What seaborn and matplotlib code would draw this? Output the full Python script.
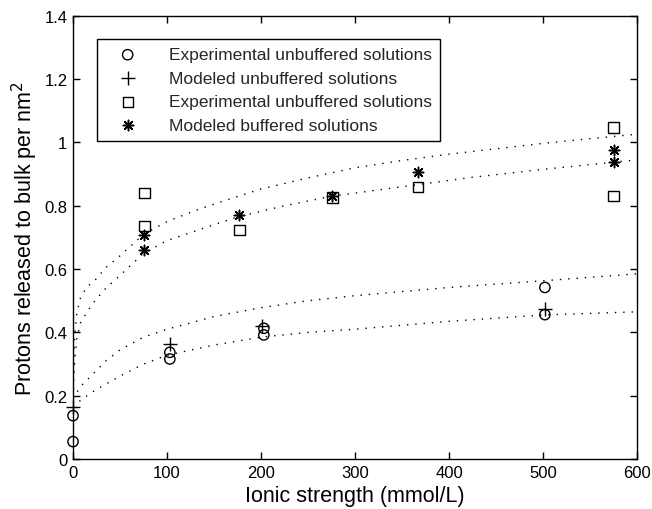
import matplotlib
matplotlib.use("Agg")
import matplotlib.pyplot as plt
import seaborn as sns
from matplotlib.ticker import FuncFormatter

sns.set_theme(style="white")
plt.rcParams["font.family"] = ["Liberation Sans", "DejaVu Sans"]

# measured points
circ_x = [0, 0, 103, 103, 203, 203, 502, 502]
circ_y = [0.055, 0.137, 0.316, 0.337, 0.392, 0.413, 0.456, 0.542]
plus_x = [0, 103, 201, 502]
plus_y = [0.163, 0.363, 0.421, 0.474]
sq_x = [76, 76, 177, 276, 367, 575, 575]
sq_y = [0.84, 0.737, 0.724, 0.826, 0.86, 1.047, 0.831]
star_x = [76, 76, 177, 276, 367, 575, 575]
star_y = [0.707, 0.66, 0.77, 0.83, 0.907, 0.977, 0.937]

# dotted fit curves
fit_a_x = [0.5, 1, 2, 4, 8, 15, 22, 35, 50, 75, 100, 130, 160, 200, 250, 300, 350, 400, 450, 500, 550, 600]
fit_a_y = [0.27, 0.33, 0.40, 0.46, 0.51, 0.545, 0.56, 0.605, 0.642, 0.71, 0.75, 0.785, 0.815, 0.853, 0.888, 0.92, 0.943, 0.963, 0.98, 0.997, 1.012, 1.026]
fit_b_x = [0.5, 1, 2, 4, 8, 15, 22, 35, 50, 75, 100, 130, 175, 225, 275, 325, 375, 425, 500, 550, 600]
fit_b_y = [0.22, 0.27, 0.32, 0.38, 0.43, 0.465, 0.495, 0.54, 0.58, 0.65, 0.69, 0.72, 0.765, 0.80, 0.83, 0.85, 0.87, 0.89, 0.915, 0.93, 0.945]
fit_c_x = [0, 5, 10, 20, 35, 50, 75, 100, 150, 200, 250, 300, 400, 500, 600]
fit_c_y = [0.19, 0.215, 0.235, 0.265, 0.31, 0.345, 0.385, 0.41, 0.45, 0.478, 0.50, 0.516, 0.542, 0.563, 0.585]
fit_d_x = [0, 10, 25, 50, 75, 100, 150, 200, 250, 300, 400, 500, 600]
fit_d_y = [0.165, 0.19, 0.22, 0.262, 0.30, 0.328, 0.36, 0.385, 0.40, 0.41, 0.435, 0.455, 0.465]

fig = plt.figure(figsize=(6.52, 5.10), dpi=100)
ax = fig.add_axes([0.112, 0.098, 0.865, 0.869])

for fx, fy in [(fit_a_x, fit_a_y), (fit_b_x, fit_b_y), (fit_c_x, fit_c_y), (fit_d_x, fit_d_y)]:
    sns.lineplot(x=fx, y=fy, ax=ax, color="black", lw=1.0, linestyle=(0, (1, 5)), legend=False)

ms = 55
sns.scatterplot(x=circ_x, y=circ_y, ax=ax, marker="o", s=ms, facecolor="none",
                edgecolor="black", linewidth=1.0, label="Experimental unbuffered solutions",
                zorder=3, clip_on=False)
sns.scatterplot(x=plus_x, y=plus_y, ax=ax, marker="+", s=110, color="black",
                linewidth=1.0, label="Modeled unbuffered solutions", zorder=3, clip_on=False)
sns.scatterplot(x=sq_x, y=sq_y, ax=ax, marker="s", s=ms, facecolor="none",
                edgecolor="black", linewidth=1.0, label="Experimental unbuffered solutions", zorder=3)
sns.scatterplot(x=star_x, y=star_y, ax=ax, marker=(8, 2, 0), s=55, color="black",
                linewidth=1.1, label="Modeled buffered solutions", zorder=3)

ax.set_xlim(0, 600)
ax.set_ylim(0, 1.4)
ax.set_xticks([0, 100, 200, 300, 400, 500, 600])
ax.set_yticks([0, 0.2, 0.4, 0.6, 0.8, 1.0, 1.2, 1.4])
ax.yaxis.set_major_formatter(FuncFormatter(lambda v, p: f"{v:g}"))
ax.tick_params(direction="in", length=5, width=1, labelsize=12, colors="black",
               top=True, right=True, bottom=True, left=True, pad=4)
for sp in ax.spines.values():
    sp.set_color("black")
    sp.set_linewidth(1.0)

ax.set_xlabel("Ionic strength (mmol/L)", fontsize=15.5, color="black", labelpad=4)
ax.set_ylabel("Protons released to bulk per nm$^2$", fontsize=15.5, color="black", labelpad=3)

leg = ax.legend(loc="upper left", bbox_to_anchor=(0.043, 0.947), borderaxespad=0,
                fontsize=12.5, frameon=True, fancybox=False, edgecolor="black",
                framealpha=1, handlelength=2.6, handletextpad=1.1, labelspacing=0.48,
                borderpad=0.45)
leg.get_frame().set_linewidth(1.0)

fig.savefig("out.png", dpi=100)
